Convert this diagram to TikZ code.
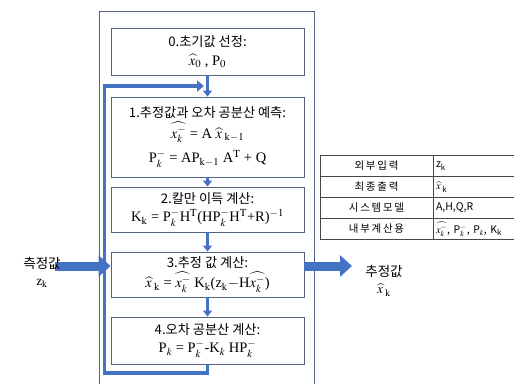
\documentclass[tikz,border=0pt]{standalone}
\usepackage{mathptmx}
\usepackage{fontspec}
\setmainfont{Liberation Serif}
\newfontfamily\kr{Noto Sans CJK KR}
\usetikzlibrary{arrows.meta}
\definecolor{kblue}{RGB}{68,114,196}
\definecolor{kframe}{RGB}{84,100,128}
\definecolor{ktab}{RGB}{70,70,70}
\newcommand\hdfont{\kr\fontsize{13.2}{17}\selectfont}
\begin{document}
\begin{tikzpicture}[x=1pt,y=-1pt,
  stepbox/.style={draw=kframe, line width=0.9pt, minimum width=193pt, align=center, inner sep=1pt, fill=white, font=\fontsize{14.5}{17.5}\selectfont},
  flow/.style={draw=kblue, line width=2.6pt, -{Triangle[length=6pt,width=9pt]}},
  fback/.style={draw=kblue, line width=3.5pt, -{Triangle[length=7pt,width=11pt]}},
  bigarr/.style={draw=kblue, line width=9pt, -{Triangle[length=12pt,width=21pt]}},
  cellL/.style={draw=ktab, line width=0.8pt, minimum width=113pt, minimum height=21pt, inner sep=0pt, font=\kr\fontsize{10.5}{12}\selectfont},
  cellR/.style={draw=ktab, line width=0.8pt, minimum width=83pt, text width=77pt, minimum height=21pt, inner xsep=3pt, inner ysep=0pt, align=left, font=\kr\fontsize{10.5}{12}\selectfont},
  lbl/.style={align=center, font=\fontsize{13.5}{17}\selectfont}
]
\useasboundingbox (0,0) rectangle (514,383);
\clip (0,0) rectangle (514,383);
\fill[white] (0,0) rectangle (514,383);
% outer frame
\draw[kframe, line width=0.9pt] (99,11) rectangle (314,395);
% boxes
\node[stepbox, minimum height=47pt] (b0) at (207.5,51.5)
  {{\hdfont 0.초기값 선정:}\\[1pt] $\widehat{x}_0$ , P$_0$};
\node[stepbox, minimum height=80pt] (b1) at (207.5,137)
  {{\hdfont 1.추정값과 오차 공분산 예측:}\\[2pt] $\widehat{x_k^-}$ = A $\widehat{x}$\,$_{\mathrm{k-1}}$\\[7pt]
   P$_{k}^{-}$ = AP$_{\mathrm{k-1}}$ A$^{\mathrm{T}}$ + Q};
\node[stepbox, minimum height=45pt] (b2) at (207.5,209.5)
  {{\hdfont 2.칼만 이득 계산:}\\[1pt] K$_{\mathrm{k}}$ = P$_{k}^{-}$H$^{\mathrm{T}}$(HP$_{k}^{-}$H$^{\mathrm{T}}$+R)$^{-1}$};
\node[stepbox, minimum height=45pt] (b3) at (207.5,274.5)
  {{\hdfont 3.추정 값 계산:}\\[2pt] $\widehat{x}$\,$_{\mathrm{k}}$ = $\widehat{x_{k}^{-}}$ K$_{\mathrm{k}}$(z$_{\mathrm{k}}$$-$H$\widehat{x_{k}^{-}}$)};
\node[stepbox, minimum height=47pt] (b4) at (207.5,340.5)
  {{\hdfont 4.오차 공분산 계산:}\\[1pt] P$_{k}$ = P$_{k}^{-}$-K$_{k}$ HP$_{k}^{-}$};
% flow arrows
\draw[flow] (b0.south) -- (b1.north);
\draw[flow] (b1.south) -- (b2.north);
\draw[flow] (b2.south) -- (b3.north);
\draw[flow] (b3.south) -- (b4.north);
% feedback loop
\coordinate (lp1) at (207.5,373);
\coordinate (lp2) at (104.5,373);
\coordinate (lp3) at (104.5,86);
\coordinate (lp4) at (204,86);
\draw[fback] (b4.south) -- (lp1) -- (lp2) -- (lp3) -- (lp4);
% input / output
\coordinate (inL) at (55,266);
\coordinate (outR) at (352,266);
\draw[bigarr] (inL) -- (inL -| b3.west);
\draw[bigarr] (b3.east |- outR) -- (outR);
\node[lbl] (tin) at (42,272) {{\kr 측정값}\\ z$_{\mathrm{k}}$};
\node[lbl] (tout) at (384,281) {{\kr 추정값}\\ $\widehat{x}$\,$_{\mathrm{k}}$};
% table
\node[cellL] (l1) at (376.5,166) {외\,부\,입\,력};
\node[cellL] (l2) at (376.5,187) {최\,종\,출\,력};
\node[cellL] (l3) at (376.5,208) {시\,스\,템\,모\,델};
\node[cellL] (l4) at (376.5,229) {내\,부\,계\,산\,용};
\node[cellR] (r1) at (474.5,166) {z\textsubscript{k}};
\node[cellR] (r2) at (474.5,187) {$\widehat{x}$\,\textsubscript{k}};
\node[cellR] (r3) at (474.5,208) {A,H,Q,R};
\node[cellR] (r4) at (474.5,229) {$\widehat{x_k^-}$, P$_k^-$, P$_k$, K\textsubscript{k}};
\end{tikzpicture}
\end{document}
